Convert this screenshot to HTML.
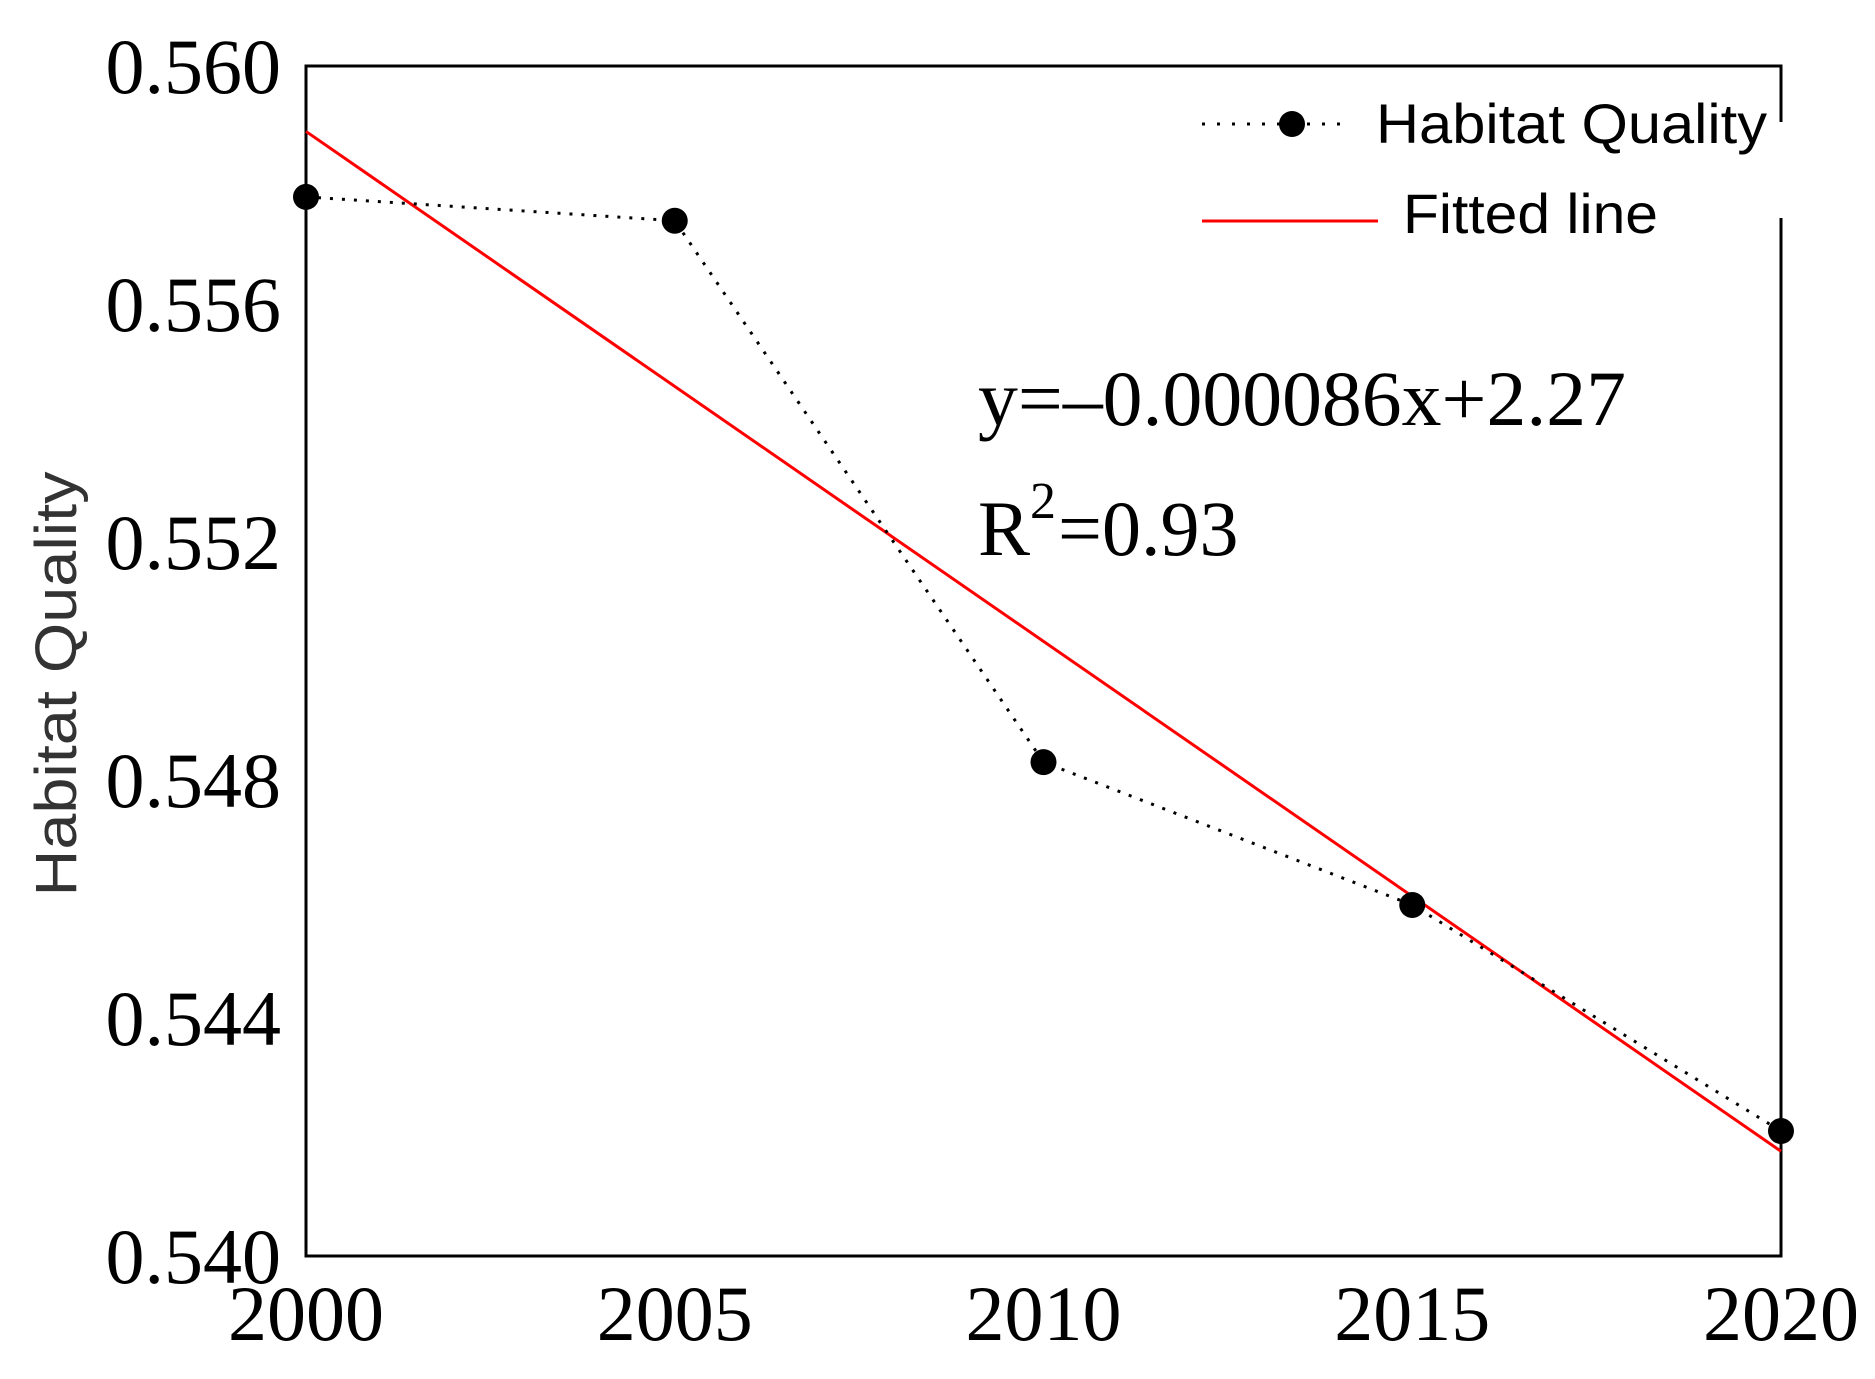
<!DOCTYPE html>
<html><head><meta charset="utf-8"><style>
html,body{margin:0;padding:0;background:#fff;}
svg{display:block;}
.tk{font-family:"Liberation Serif",serif;font-size:78px;fill:#000;}
.lg{font-family:"Liberation Sans",sans-serif;font-size:56px;fill:#000;}
</style></head><body>
<svg id="chart" width="1875" height="1379" viewBox="0 0 1875 1379" xmlns="http://www.w3.org/2000/svg">
<g id="plot"></g>
</svg>
<script>
const years = [2000, 2005, 2010, 2015, 2020];
const quality = [0.5578, 0.5574, 0.5483, 0.5459, 0.5421];
const fitSlope = -0.000857;
const fitStart = 0.5589;
const yTicks = [0.540, 0.544, 0.548, 0.552, 0.556, 0.560];
const yTickLabels = ["0.540", "0.544", "0.548", "0.552", "0.556", "0.560"];
const xTicks = [2000, 2005, 2010, 2015, 2020];

const L = 306, R = 1781, T = 66, B = 1256;
const xS = v => L + (v - 2000) / 20 * (R - L);
const yS = v => B - (v - 0.540) / 0.020 * (B - T);
const NS = "http://www.w3.org/2000/svg";
const g = document.getElementById('plot');
function mk(tag, attrs, text) {
  const e = document.createElementNS(NS, tag);
  for (const k in attrs) e.setAttribute(k, attrs[k]);
  if (text !== undefined) e.textContent = text;
  g.appendChild(e);
  return e;
}
let e;
e = mk('rect', {x: L, y: T, width: R - L, height: B - T, fill: 'none', stroke: '#000', 'stroke-width': 3});



yTicks.forEach((v, i) => {
  e = mk('text', {x: 281, y: yS(v) + 27, class: 'tk', 'text-anchor': 'end'}, yTickLabels[i]);
  
  
});
xTicks.forEach(v => {
  e = mk('text', {x: xS(v), y: 1340, class: 'tk', 'text-anchor': 'middle'}, String(v));
  
  
});
e = mk('text', {x: 0, y: 0, class: 'lg', 'text-anchor': 'middle', transform: 'translate(76,684) rotate(-90)', style: 'font-size:58px;fill:#333', textLength: 425, lengthAdjust: 'spacingAndGlyphs'}, 'Habitat Quality');



// gap in right border behind legend
e = mk('rect', {x: R - 3, y: 122, width: 8, height: 96, fill: '#fff'});



// fitted line
const y0 = fitStart, y1 = fitStart + fitSlope * 20;
e = mk('line', {x1: xS(2000), y1: yS(y0), x2: xS(2020), y2: yS(y1), stroke: '#ff0000', 'stroke-width': 3});



// data series
const pts = years.map((y, i) => xS(y) + ',' + yS(quality[i])).join(' ');
e = mk('polyline', {points: pts, fill: 'none', stroke: '#000', 'stroke-width': 3, 'stroke-dasharray': '3 9'});


years.forEach((y, i) => {
  e = mk('circle', {cx: xS(y), cy: yS(quality[i]), r: 13, fill: '#000'});
  
  
});

// legend
e = mk('line', {x1: 1202, y1: 124, x2: 1351, y2: 124, stroke: '#000', 'stroke-width': 3, 'stroke-dasharray': '3 12'});


e = mk('circle', {cx: 1292, cy: 124, r: 13, fill: '#000'});


e = mk('text', {x: 1376, y: 143, class: 'lg', textLength: 391, lengthAdjust: 'spacingAndGlyphs'}, 'Habitat Quality');


e = mk('line', {x1: 1202, y1: 221, x2: 1378, y2: 221, stroke: '#ff0000', 'stroke-width': 3});


e = mk('text', {x: 1403, y: 233, class: 'lg', textLength: 255, lengthAdjust: 'spacingAndGlyphs'}, 'Fitted line');



// equation
e = mk('text', {x: 978, y: 425, class: 'tk', textLength: 648, lengthAdjust: 'spacingAndGlyphs'}, 'y=\u20130.000086x+2.27');


e = mk('text', {x: 978, y: 555, class: 'tk'}, 'R');


mk('text', {x: 1030, y: 518, class: 'tk', style: 'font-size:52px'}, '2');
e = mk('text', {x: 1058, y: 555, class: 'tk'}, '=0.93');


</script>
</body></html>
